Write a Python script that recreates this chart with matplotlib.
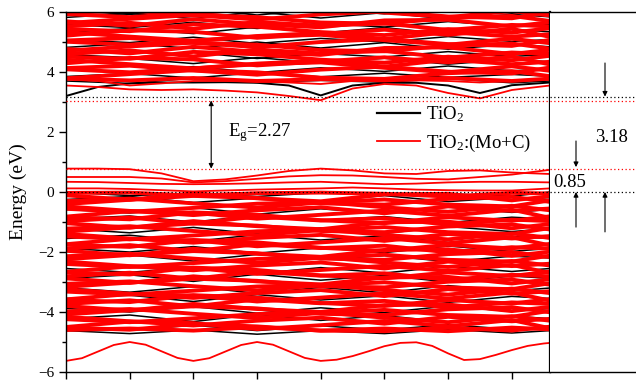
import matplotlib
matplotlib.use("Agg")
import matplotlib.pyplot as plt
from matplotlib.lines import Line2D

plt.rcParams['font.family'] = ['Liberation Serif', 'DejaVu Serif']
plt.rcParams['mathtext.fontset'] = 'custom'
plt.rcParams['mathtext.rm'] = 'Liberation Serif'

# k-path positions (arbitrary units along the path)
k_fine = [0, 0.5, 1, 1.5, 2, 2.5, 3, 3.5, 4, 4.5, 5, 5.5, 6, 6.5, 7, 7.6]
k_coarse = [0, 1, 2, 3, 4, 5, 6, 7, 7.6]
k_low = [0, 0.25, 0.5, 0.75, 1, 1.25, 1.5, 1.75, 2, 2.25, 2.5, 2.75, 3, 3.25, 3.5, 3.75,
         4, 4.25, 4.5, 4.75, 5, 5.25, 5.5, 5.75, 6, 6.25, 6.5, 6.75, 7, 7.25, 7.5, 7.6]

# pure TiO2 (black)
tio2_cb_edge = [3.20, 3.50, 3.62, 3.65, 3.65, 3.66, 3.64, 3.55, 3.22, 3.55, 3.64, 3.64, 3.55, 3.30, 3.56, 3.65]
tio2_cb = [
    [3.70, 3.62, 3.80, 3.65, 3.72, 3.66, 3.78, 3.64, 3.70],
    [3.85, 3.95, 3.80, 3.98, 3.84, 3.96, 3.82, 3.92, 3.86],
    [4.10, 4.00, 4.18, 3.98, 4.14, 4.02, 4.20, 4.04, 4.10],
    [4.32, 4.45, 4.28, 4.48, 4.30, 4.46, 4.26, 4.42, 4.34],
    [4.58, 4.48, 4.66, 4.45, 4.62, 4.50, 4.68, 4.52, 4.58],
    [4.82, 4.95, 4.78, 5.00, 4.80, 4.98, 4.76, 4.92, 4.84],
    [5.08, 4.98, 5.16, 4.95, 5.12, 5.00, 5.18, 5.02, 5.08],
    [5.32, 5.45, 5.28, 5.50, 5.30, 5.48, 5.26, 5.42, 5.34],
    [5.58, 5.48, 5.66, 5.45, 5.62, 5.50, 5.68, 5.52, 5.58],
    [5.82, 5.95, 5.78, 6.00, 5.80, 5.98, 5.76, 5.92, 5.84],
    [6.05, 5.92, 6.10, 5.90, 6.08, 5.94, 6.12, 5.96, 6.04],
]
tio2_vb = [
    [0.00, -0.12, -0.05, -0.15, -0.02, -0.10, -0.06, -0.14, 0.00],
    [-0.25, -0.15, -0.35, -0.20, -0.30, -0.12, -0.32, -0.18, -0.25],
    [-0.58, -0.70, -0.52, -0.74, -0.56, -0.72, -0.50, -0.68, -0.58],
    [-0.90, -0.80, -1.00, -0.78, -0.95, -0.82, -1.02, -0.84, -0.90],
    [-1.22, -1.36, -1.18, -1.40, -1.20, -1.38, -1.15, -1.32, -1.22],
    [-1.55, -1.44, -1.65, -1.42, -1.60, -1.46, -1.68, -1.48, -1.55],
    [-1.88, -2.00, -1.82, -2.04, -1.86, -2.02, -1.80, -1.98, -1.88],
    [-2.20, -2.10, -2.30, -2.08, -2.25, -2.12, -2.32, -2.14, -2.20],
    [-2.55, -2.68, -2.50, -2.72, -2.52, -2.70, -2.48, -2.65, -2.55],
    [-2.88, -2.76, -2.98, -2.74, -2.94, -2.78, -3.00, -2.80, -2.88],
    [-3.20, -3.34, -3.15, -3.38, -3.18, -3.36, -3.12, -3.30, -3.20],
    [-3.55, -3.44, -3.65, -3.42, -3.60, -3.46, -3.68, -3.48, -3.55],
    [-3.88, -4.00, -3.82, -4.04, -3.86, -4.02, -3.80, -3.98, -3.88],
    [-4.22, -4.10, -4.32, -4.08, -4.28, -4.12, -4.34, -4.14, -4.22],
    [-4.48, -4.60, -4.44, -4.62, -4.46, -4.60, -4.42, -4.58, -4.48],
    [-4.62, -4.72, -4.60, -4.74, -4.62, -4.72, -4.58, -4.70, -4.62],
]

# TiO2:(Mo+C) (red)
doped_cb_edge = [
    [3.55, 3.50, 3.42, 3.40, 3.42, 3.38, 3.32, 3.20, 3.06, 3.45, 3.60, 3.55, 3.30, 3.12, 3.40, 3.55],
    [3.75, 3.70, 3.55, 3.62, 3.70, 3.70, 3.68, 3.65, 3.60, 3.70, 3.72, 3.72, 3.70, 3.65, 3.70, 3.75],
]
doped_cb = [
    [3.78, 3.72, 3.80, 3.70, 3.76, 3.72, 3.80, 3.70, 3.78],
    [3.79, 3.93, 4.06, 3.99, 3.81, 3.77, 3.96, 4.03, 3.86],
    [4.13, 4.21, 4.05, 3.91, 4.08, 4.18, 4.01, 3.95, 4.15],
    [4.09, 3.99, 4.12, 4.26, 4.32, 4.14, 3.99, 4.19, 4.04],
    [4.41, 4.26, 4.12, 4.28, 4.38, 4.18, 4.41, 4.26, 4.34],
    [4.29, 4.47, 4.42, 4.22, 4.35, 4.49, 4.32, 4.52, 4.25],
    [4.51, 4.44, 4.67, 4.59, 4.41, 4.31, 4.51, 4.39, 4.54],
    [4.60, 4.72, 4.52, 4.75, 4.62, 4.70, 4.48, 4.65, 4.60],
    [4.77, 4.62, 4.84, 4.67, 4.57, 4.80, 4.82, 4.60, 4.74],
    [4.71, 4.85, 4.98, 4.91, 4.73, 4.69, 4.88, 4.95, 4.78],
    [5.05, 5.13, 4.97, 4.83, 5.00, 5.10, 4.93, 4.87, 5.07],
    [5.01, 4.91, 5.04, 5.18, 5.24, 5.06, 4.91, 5.11, 4.96],
    [5.33, 5.18, 5.04, 5.20, 5.30, 5.10, 5.33, 5.18, 5.26],
    [5.21, 5.39, 5.34, 5.14, 5.27, 5.41, 5.24, 5.44, 5.17],
    [5.43, 5.36, 5.59, 5.51, 5.33, 5.23, 5.43, 5.31, 5.46],
    [5.52, 5.64, 5.44, 5.67, 5.54, 5.62, 5.40, 5.57, 5.52],
    [5.69, 5.54, 5.76, 5.59, 5.49, 5.72, 5.74, 5.52, 5.66],
    [5.63, 5.77, 5.90, 5.83, 5.65, 5.61, 5.80, 5.87, 5.70],
    [5.97, 6.05, 5.89, 5.75, 5.92, 6.02, 5.85, 5.79, 5.99],
    [5.93, 5.83, 5.96, 6.10, 6.16, 5.98, 5.83, 6.03, 5.88],
    [6.25, 6.10, 5.96, 6.12, 6.22, 6.02, 6.25, 6.10, 6.18],
]
doped_gap = [
    [0.78, 0.78, 0.76, 0.62, 0.36, 0.42, 0.55, 0.70, 0.78, 0.72, 0.62, 0.60, 0.70, 0.72, 0.65, 0.60],
    [0.50, 0.50, 0.50, 0.45, 0.32, 0.36, 0.44, 0.52, 0.56, 0.55, 0.50, 0.44, 0.42, 0.50, 0.58, 0.74],
    [0.34, 0.33, 0.30, 0.27, 0.26, 0.27, 0.29, 0.32, 0.34, 0.30, 0.26, 0.28, 0.32, 0.34, 0.34, 0.32],
    [0.12, 0.12, 0.10, 0.06, 0.02, 0.05, 0.08, 0.10, 0.12, 0.15, 0.12, 0.08, 0.06, 0.05, 0.05, 0.12],
]
doped_vb = [
    [-0.03, -0.02, -0.12, -0.04, -0.02, -0.06, -0.15, -0.03, -0.05],
    [-0.11, -0.26, -0.04, -0.21, -0.31, -0.08, -0.06, -0.28, -0.14],
    [-0.40, -0.26, -0.13, -0.20, -0.38, -0.42, -0.23, -0.16, -0.33],
    [-0.30, -0.22, -0.38, -0.52, -0.35, -0.25, -0.42, -0.48, -0.28],
    [-0.56, -0.66, -0.53, -0.39, -0.33, -0.51, -0.66, -0.46, -0.61],
    [-0.48, -0.63, -0.77, -0.61, -0.51, -0.71, -0.48, -0.63, -0.55],
    [-0.82, -0.64, -0.69, -0.89, -0.76, -0.62, -0.79, -0.59, -0.86],
    [-0.84, -0.91, -0.68, -0.76, -0.94, -1.04, -0.84, -0.96, -0.81],
    [-0.97, -0.85, -1.05, -0.82, -0.95, -0.87, -1.09, -0.92, -0.97],
    [-1.04, -1.19, -0.97, -1.14, -1.24, -1.01, -0.99, -1.21, -1.07],
    [-1.32, -1.18, -1.05, -1.12, -1.30, -1.34, -1.15, -1.08, -1.25],
    [-1.22, -1.14, -1.30, -1.44, -1.27, -1.17, -1.34, -1.40, -1.20],
    [-1.48, -1.58, -1.45, -1.31, -1.25, -1.43, -1.58, -1.38, -1.53],
    [-1.40, -1.55, -1.69, -1.53, -1.43, -1.63, -1.40, -1.55, -1.47],
    [-1.74, -1.56, -1.61, -1.81, -1.68, -1.54, -1.71, -1.51, -1.78],
    [-1.76, -1.83, -1.60, -1.68, -1.86, -1.96, -1.76, -1.88, -1.73],
    [-1.89, -1.77, -1.97, -1.74, -1.87, -1.79, -2.01, -1.84, -1.89],
    [-1.96, -2.11, -1.89, -2.06, -2.16, -1.93, -1.91, -2.13, -1.99],
    [-2.24, -2.10, -1.97, -2.04, -2.22, -2.26, -2.07, -2.00, -2.17],
    [-2.14, -2.06, -2.22, -2.36, -2.19, -2.09, -2.26, -2.32, -2.12],
    [-2.40, -2.50, -2.37, -2.23, -2.17, -2.35, -2.50, -2.30, -2.45],
    [-2.32, -2.47, -2.61, -2.45, -2.35, -2.55, -2.32, -2.47, -2.39],
    [-2.66, -2.48, -2.53, -2.73, -2.60, -2.46, -2.63, -2.43, -2.70],
    [-2.68, -2.75, -2.52, -2.60, -2.78, -2.88, -2.68, -2.80, -2.65],
    [-2.81, -2.69, -2.89, -2.66, -2.79, -2.71, -2.93, -2.76, -2.81],
    [-2.88, -3.03, -2.81, -2.98, -3.08, -2.85, -2.83, -3.05, -2.91],
    [-3.16, -3.02, -2.89, -2.96, -3.14, -3.18, -2.99, -2.92, -3.09],
    [-3.06, -2.98, -3.14, -3.28, -3.11, -3.01, -3.18, -3.24, -3.04],
    [-3.32, -3.42, -3.29, -3.15, -3.09, -3.27, -3.42, -3.22, -3.37],
    [-3.24, -3.39, -3.53, -3.37, -3.27, -3.47, -3.24, -3.39, -3.31],
    [-3.58, -3.40, -3.45, -3.65, -3.52, -3.38, -3.55, -3.35, -3.62],
    [-3.60, -3.67, -3.44, -3.52, -3.70, -3.80, -3.60, -3.72, -3.57],
    [-3.73, -3.61, -3.81, -3.58, -3.71, -3.63, -3.85, -3.68, -3.73],
    [-3.80, -3.95, -3.73, -3.90, -4.00, -3.77, -3.75, -3.97, -3.83],
    [-4.08, -3.94, -3.81, -3.88, -4.06, -4.10, -3.91, -3.84, -4.01],
    [-3.98, -3.90, -4.06, -4.20, -4.03, -3.93, -4.10, -4.16, -3.96],
    [-4.24, -4.34, -4.21, -4.07, -4.01, -4.19, -4.34, -4.14, -4.29],
    [-4.16, -4.31, -4.45, -4.29, -4.19, -4.39, -4.16, -4.31, -4.23],
    [-4.50, -4.32, -4.37, -4.57, -4.44, -4.30, -4.47, -4.27, -4.54],
    [-4.52, -4.59, -4.40, -4.48, -4.62, -4.64, -4.52, -4.62, -4.49],
    [-4.60, -4.55, -4.62, -4.50, -4.62, -4.55, -4.64, -4.52, -4.58],
]
doped_low = [-5.63, -5.54, -5.32, -5.10, -5.00, -5.09, -5.31, -5.53, -5.63, -5.54, -5.32, -5.10,
             -5.00, -5.09, -5.31, -5.53, -5.63, -5.59, -5.47, -5.31, -5.14, -5.03, -5.01, -5.13,
             -5.38, -5.60, -5.57, -5.43, -5.27, -5.13, -5.05, -5.03]

# band edges (eV) and labels
tio2_cbm, tio2_vbm = 3.18, 0.0
doped_cbm, doped_vbm = 3.05, 0.78
gap_label = "E$\\mathregular{_g}$=2.27"

W, H = 636, 381
fig = plt.figure(figsize=(W / 100, H / 100), dpi=100)
ax = fig.add_axes([66 / W, 9 / H, (550 - 66) / W, 360 / H])
side = fig.add_axes([550 / W, 9 / H, 150 / W, 360 / H])

black, red = 'black', '#ff0000'

for band in tio2_cb + tio2_vb:
    ax.plot(k_coarse, band, color=black, lw=1.1)
ax.plot(k_fine, tio2_cb_edge, color=black, lw=1.4)

for band in doped_cb + doped_vb:
    ax.plot(k_coarse, band, color=red, lw=2.8)
for band in doped_cb_edge + doped_gap:
    ax.plot(k_fine, band, color=red, lw=1.3)
ax.plot(k_low, doped_low, color=red, lw=1.3)

for a in (ax, side):
    a.axhline(tio2_cbm, color=black, ls=(0, (1, 2)), lw=0.9, zorder=5)
    a.axhline(tio2_vbm, color=black, ls=(0, (1, 2)), lw=0.9, zorder=5)
    a.axhline(doped_cbm, color=red, ls=(0, (1, 2)), lw=0.9, zorder=5)
    a.axhline(doped_vbm, color=red, ls=(0, (1, 2)), lw=0.9, zorder=5)

ax.set_xlim(0, 7.6)
ax.set_ylim(-6, 6)
ax.set_xticks(range(8))
ax.set_xticklabels([])
ax.set_yticks([-6, -4, -2, 0, 2, 4, 6])
ax.set_yticks([-5, -3, -1, 1, 3, 5], minor=True)
ax.tick_params(axis='both', direction='out', length=5, width=1, labelsize=11)
ax.tick_params(axis='y', which='minor', direction='out', length=3, width=1)
ax.set_ylabel("Energy (eV)", fontsize=14, labelpad=8)
for s in ax.spines.values():
    s.set_linewidth(1.0)
ax.spines['right'].set_linewidth(1.6)

ax.annotate('', xy=(2.28, doped_vbm), xytext=(2.28, doped_cbm),
            arrowprops=dict(arrowstyle='<|-|>', color=black, lw=0.8, mutation_scale=7,
                            shrinkA=0, shrinkB=0), zorder=6)
ax.text(2.55, 1.97, gap_label, fontsize=13.5, va='center', ha='left')

handles = [Line2D([], [], color=black, lw=1.6), Line2D([], [], color=red, lw=1.3)]
ax.legend(handles, ["TiO$\\mathregular{_2}$", "TiO$\\mathregular{_2}$:(Mo+C)"],
          loc='center left', bbox_to_anchor=(377 / W, (H - 129) / H),
          bbox_transform=fig.transFigure, frameon=False, fontsize=13.5,
          handlelength=2.3, handletextpad=0.3, labelspacing=0.45, borderpad=0,
          borderaxespad=0)

side.set_xlim(0, 150)
side.set_ylim(-6, 6)
side.set_xticks([])
side.set_yticks([])
side.spines['left'].set_visible(False)
side.spines['right'].set_visible(False)
for s in ('top', 'bottom'):
    side.spines[s].set_linewidth(1.0)

arrow = dict(arrowstyle='-|>', color=black, lw=0.8, mutation_scale=7, shrinkA=0, shrinkB=0)
side.annotate('', xy=(55, tio2_cbm), xytext=(55, 4.3), arrowprops=arrow)
side.annotate('', xy=(26, doped_vbm + 0.05), xytext=(26, 1.7), arrowprops=arrow)
side.annotate('', xy=(26, tio2_vbm), xytext=(26, -1.17), arrowprops=arrow)
side.annotate('', xy=(55, tio2_vbm), xytext=(55, -1.33), arrowprops=arrow)
side.text(62, 1.8, "3.18", fontsize=13.5, ha='center', va='center')
side.text(20, 0.33, "0.85", fontsize=13.5, ha='center', va='center')

fig.savefig("out.png", dpi=100)
